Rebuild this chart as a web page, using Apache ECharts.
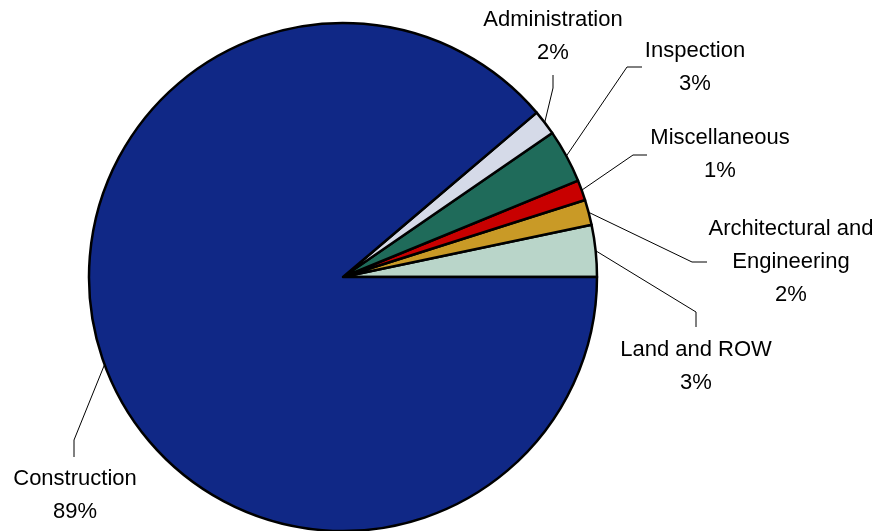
<!DOCTYPE html>
<html>
<head>
<meta charset="utf-8">
<script src="https://cdn.jsdelivr.net/npm/echarts@6/dist/echarts.min.js"></script>
<style>
  html, body { margin: 0; padding: 0; background: #fff; }
  #chart { width: 876px; height: 531px; }
</style>
</head>
<body>
<div id="chart"></div>
<script>
// Cost shares by budget line (percent of total), counter-clockwise from 3 o'clock
const categories = ['Land and ROW', 'Architectural and\nEngineering', 'Miscellaneous', 'Inspection', 'Administration', 'Construction'];
const shares = [3.3, 1.6, 1.3, 3.4, 1.6, 88.8];
const sliceColors = ['#B9D5C9', '#C99A26', '#C80000', '#1F6B5A', '#D5DAE8', '#102886'];

// Label placement: text anchor (center x, top y) and the bend of each leader line
const labelPlacement = [
  { x: 696, y: 333, bend: [[696, 312], [696, 327]] },
  { x: 791, y: 212, bend: [[692, 262], [707, 262]] },
  { x: 720, y: 121, bend: [[633, 155], [647, 155]] },
  { x: 695, y: 34,  bend: [[627, 67], [642, 67]] },
  { x: 553, y: 3,   bend: [[553, 88], [553, 75]] },
  { x: 75,  y: 462, bend: [[74, 440], [74, 457]] }
];

const chart = echarts.init(document.getElementById('chart'), null, { renderer: 'canvas' });

chart.setOption({
  animation: false,
  backgroundColor: '#ffffff',
  series: [{
    type: 'pie',
    center: [343, 277],
    radius: 254,
    startAngle: 0,
    clockwise: false,
    avoidLabelOverlap: false,
    itemStyle: { borderColor: '#000000', borderWidth: 2.5 },
    label: {
      show: true,
      formatter: p => p.name + '\n' + Math.round(p.percent) + '%',
      fontFamily: "'Liberation Sans', Arial, sans-serif",
      fontSize: 22,
      lineHeight: 33,
      color: '#000000',
      align: 'center'
    },
    labelLine: {
      show: true,
      length: 20,
      length2: 10,
      lineStyle: { color: '#000000', width: 1 }
    },
    labelLayout: function (params) {
      const cfg = labelPlacement[params.dataIndex];
      const rim = params.labelLinePoints ? params.labelLinePoints[0] : null;
      const out = { x: cfg.x, y: cfg.y, align: 'center', verticalAlign: 'top' };
      if (rim) out.labelLinePoints = [rim, cfg.bend[0], cfg.bend[1]];
      return out;
    },
    emphasis: { disabled: true },
    data: categories.map((name, i) => ({
      name: name,
      value: shares[i],
      itemStyle: { color: sliceColors[i] }
    }))
  }]
});
</script>
</body>
</html>
